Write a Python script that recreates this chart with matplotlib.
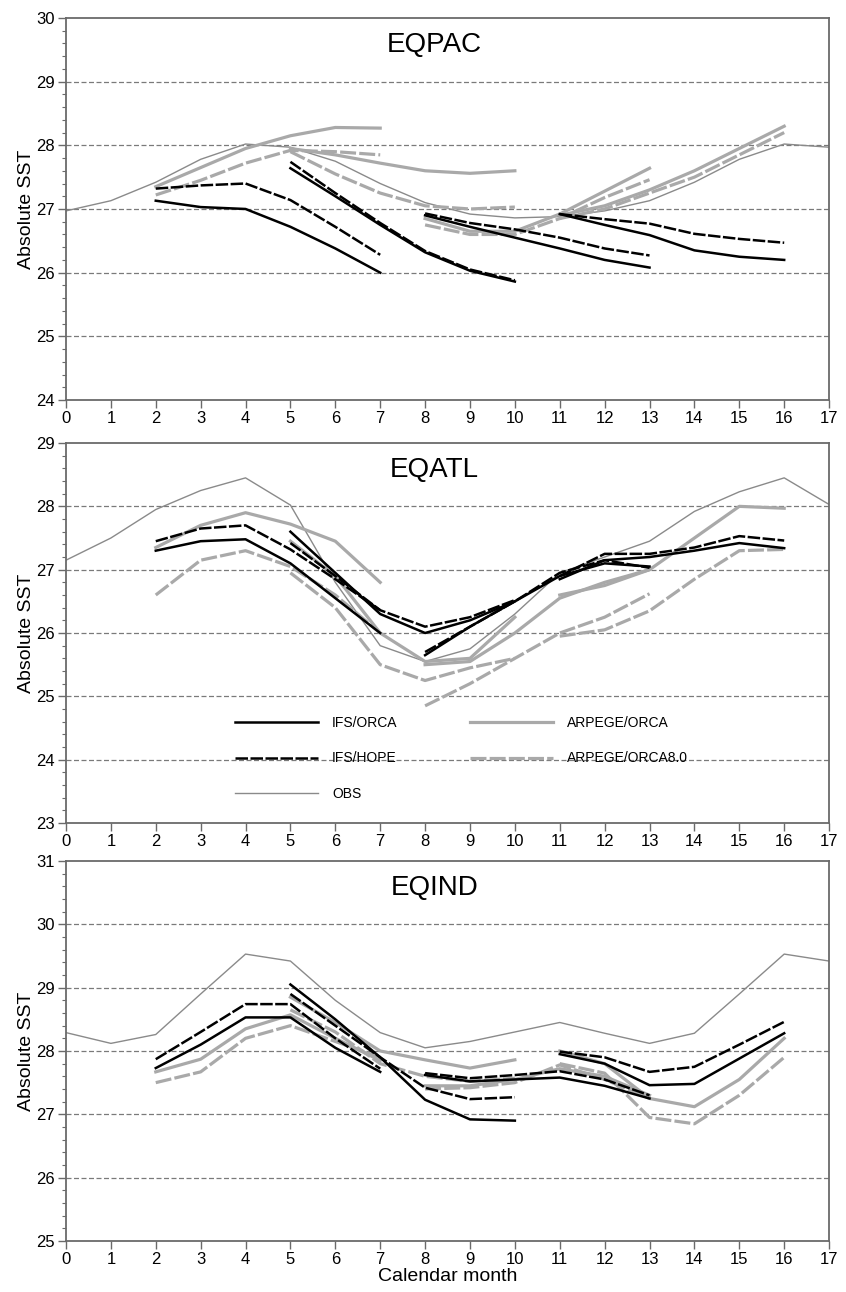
import numpy as np
import matplotlib
matplotlib.use('Agg')
import matplotlib.pyplot as plt
from matplotlib.lines import Line2D
from matplotlib.ticker import MultipleLocator

plt.rcParams['font.family'] = ['Liberation Sans', 'DejaVu Sans']

months = np.arange(18)
starts = [2, 5, 8, 11]
lead = np.arange(6)

# observed climatology (periodic, calendar month 0..17)
pac_obs = [26.97, 27.13, 27.42, 27.78, 28.02, 27.97, 27.75, 27.4, 27.1, 26.92,
           26.86, 26.88, 26.97, 27.13, 27.42, 27.78, 28.02, 27.97]
atl_obs = [27.15, 27.5, 27.95, 28.25, 28.45, 28.02, 26.8, 25.8, 25.55, 25.75,
           26.3, 26.95, 27.2, 27.45, 27.92, 28.23, 28.45, 28.03]
ind_obs = [28.29, 28.12, 28.26, 28.9, 29.53, 29.42, 28.8, 28.29, 28.05, 28.15,
           28.3, 28.45, 28.28, 28.12, 28.28, 28.9, 29.53, 29.42]

# forecasts, one row per start month (2, 5, 8, 11), 6 months each
pac_ifs_orca = [[27.13, 27.03, 27.0, 26.72, 26.38, 26.0],
                [27.64, 27.2, 26.75, 26.32, 26.03, 25.86],
                [26.9, 26.72, 26.55, 26.38, 26.2, 26.08],
                [26.92, 26.75, 26.59, 26.35, 26.25, 26.2]]
pac_ifs_hope = [[27.32, 27.37, 27.4, 27.14, 26.72, 26.28],
                [27.74, 27.25, 26.78, 26.34, 26.05, 25.88],
                [26.93, 26.78, 26.68, 26.55, 26.38, 26.27],
                [26.92, 26.84, 26.77, 26.61, 26.53, 26.47]]
pac_arp_orca = [[27.35, 27.65, 27.95, 28.15, 28.28, 28.27],
                [27.95, 27.85, 27.72, 27.6, 27.56, 27.6],
                [26.85, 26.65, 26.65, 26.92, 27.28, 27.64],
                [26.9, 27.05, 27.3, 27.6, 27.95, 28.3]]
pac_arp_orca8 = [[27.22, 27.45, 27.72, 27.92, 27.9, 27.85],
                 [27.9, 27.55, 27.25, 27.05, 27.0, 27.03],
                 [26.75, 26.6, 26.6, 26.85, 27.18, 27.46],
                 [26.85, 27.0, 27.25, 27.5, 27.85, 28.2]]

atl_ifs_orca = [[27.3, 27.45, 27.48, 27.1, 26.55, 26.0],
                [27.6, 26.95, 26.3, 26.0, 26.2, 26.5],
                [25.65, 26.1, 26.5, 26.9, 27.1, 27.05],
                [26.85, 27.15, 27.2, 27.3, 27.42, 27.34]]
atl_ifs_hope = [[27.45, 27.65, 27.7, 27.32, 26.85, 26.36],
                [27.42, 26.9, 26.36, 26.1, 26.25, 26.52],
                [25.7, 26.1, 26.5, 26.95, 27.15, 27.03],
                [26.9, 27.25, 27.25, 27.35, 27.53, 27.46]]
atl_arp_orca = [[27.35, 27.7, 27.9, 27.72, 27.45, 26.8],
                [27.45, 26.9, 26.0, 25.55, 25.6, 26.25],
                [25.5, 25.55, 26.0, 26.55, 26.8, 27.0],
                [26.6, 26.75, 27.0, 27.5, 28.0, 27.97]]
atl_arp_orca8 = [[26.6, 27.15, 27.3, 27.05, 26.6, 26.0],
                 [26.95, 26.4, 25.5, 25.25, 25.45, 25.6],
                 [24.85, 25.2, 25.6, 26.0, 26.25, 26.62],
                 [25.95, 26.05, 26.35, 26.85, 27.3, 27.32]]

ind_ifs_orca = [[27.73, 28.1, 28.53, 28.53, 28.05, 27.67],
                [29.05, 28.5, 27.9, 27.23, 26.92, 26.9],
                [27.62, 27.52, 27.55, 27.58, 27.45, 27.25],
                [27.95, 27.8, 27.46, 27.48, 27.88, 28.28]]
ind_ifs_hope = [[27.87, 28.3, 28.74, 28.74, 28.2, 27.72],
                [28.9, 28.4, 27.9, 27.42, 27.24, 27.27],
                [27.65, 27.57, 27.62, 27.68, 27.55, 27.3],
                [27.99, 27.9, 27.67, 27.75, 28.1, 28.46]]
ind_arp_orca = [[27.67, 27.87, 28.35, 28.57, 28.2, 27.85],
                [28.85, 28.45, 28.0, 27.86, 27.73, 27.86],
                [27.45, 27.45, 27.55, 27.72, 27.6, 27.3],
                [28.0, 27.8, 27.25, 27.12, 27.55, 28.2]]
ind_arp_orca8 = [[27.5, 27.67, 28.2, 28.4, 28.15, 27.9],
                 [28.65, 28.3, 27.8, 27.6, 27.52, 27.57],
                 [27.4, 27.42, 27.5, 27.78, 27.55, 27.25],
                 [27.8, 27.65, 26.95, 26.85, 27.3, 27.9]]

regions = ['EQPAC', 'EQATL', 'EQIND']
ylims = [(24, 30), (23, 29), (25, 31)]
obs_all = [pac_obs, atl_obs, ind_obs]
fc_all = [
    [pac_ifs_orca, pac_ifs_hope, pac_arp_orca, pac_arp_orca8],
    [atl_ifs_orca, atl_ifs_hope, atl_arp_orca, atl_arp_orca8],
    [ind_ifs_orca, ind_ifs_hope, ind_arp_orca, ind_arp_orca8],
]

names = ['IFS/ORCA', 'IFS/HOPE', 'ARPEGE/ORCA', 'ARPEGE/ORCA8.0']
styles = [dict(color='black', lw=1.8, ls='-', zorder=4),
          dict(color='black', lw=1.8, ls=(0, (5, 1)), zorder=4),
          dict(color='#a9a9a9', lw=2.3, ls='-', zorder=3),
          dict(color='#a9a9a9', lw=2.3, ls=(0, (5, 1)), zorder=3)]
obs_style = dict(color='#8a8a8a', lw=1.0, ls='-', zorder=2)

fig = plt.figure(figsize=(8.46, 12.92), dpi=100)
boxes = [[0.078, 0.6904, 0.902, 0.2957],
         [0.078, 0.3630, 0.902, 0.2941],
         [0.078, 0.0395, 0.902, 0.2941]]
edge = '#6a6a6a'

for i, reg in enumerate(regions):
    ax = fig.add_axes(boxes[i])
    lo, hi = ylims[i]
    for y in range(lo + 1, hi):
        ax.axhline(y, color='#7a7a7a', lw=0.9, ls=(0, (4, 2)), zorder=1)
    ax.plot(months, obs_all[i], **obs_style)
    for k in [2, 3, 0, 1]:
        for j, s in enumerate(starts):
            ax.plot(s + lead, fc_all[i][k][j], **styles[k])
    ax.set_xlim(0, 17)
    ax.set_ylim(lo, hi)
    ax.set_xticks(months)
    ax.yaxis.set_major_locator(MultipleLocator(1))
    ax.yaxis.set_minor_locator(MultipleLocator(0.2))
    ax.tick_params(axis='both', which='major', direction='out', length=6,
                   width=1.0, color=edge, labelsize=12, pad=2)
    ax.tick_params(axis='y', which='minor', direction='out', length=3,
                   width=0.8, color=edge)
    for sp in ax.spines.values():
        sp.set_color(edge)
        sp.set_linewidth(1.3)
    ax.set_ylabel('Absolute SST', fontsize=14, labelpad=1)
    ax.text(0.483, 0.93, reg, transform=ax.transAxes, fontsize=20,
            ha='center', va='center')
    if i == 1:
        handles = [Line2D([], [], **styles[0]), Line2D([], [], **styles[1]),
                   Line2D([], [], **obs_style),
                   Line2D([], [], **styles[2]), Line2D([], [], **styles[3])]
        labels = [names[0], names[1], 'OBS', names[2], names[3]]
        ax.legend(handles, labels, ncol=2, frameon=False, loc='upper left',
                  bbox_to_anchor=(0.212, 0.30), fontsize=10,
                  handlelength=6.0, handletextpad=1.0, labelspacing=1.55,
                  columnspacing=5.2, borderpad=0)
    if i == 2:
        ax.set_xlabel('Calendar month', fontsize=14, labelpad=1)

fig.savefig('out.png', dpi=100)
